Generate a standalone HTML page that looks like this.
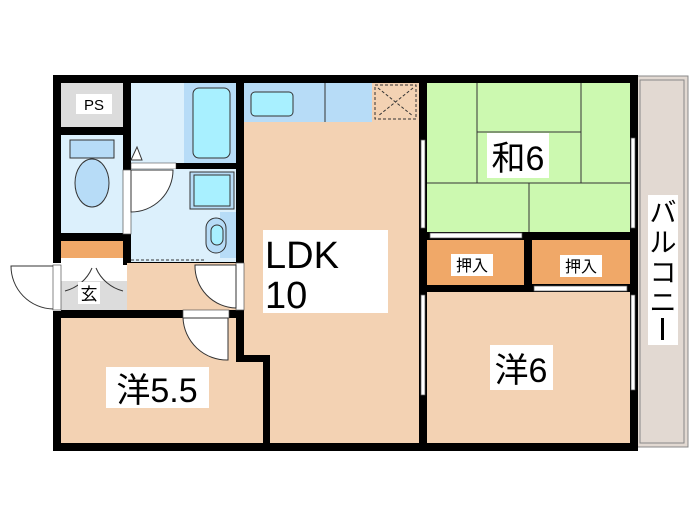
<!DOCTYPE html><html><head><meta charset="utf-8"><style>body{margin:0;background:#fff}svg{display:block}text{font-family:"Liberation Sans","Noto Sans CJK JP",sans-serif}</style></head><body>
<svg width="700" height="525" viewBox="0 0 700 525" xmlns="http://www.w3.org/2000/svg">
<rect width="700" height="525" fill="#fff"/>
<rect x="636" y="76" width="52" height="371" fill="#e2d9d2" stroke="#888" stroke-width="1"/>
<rect x="640" y="80" width="44" height="363" fill="none" stroke="#888" stroke-width="1"/>
<rect x="53" y="75" width="585" height="376" fill="#000"/>
<rect x="61" y="83" width="62" height="44" fill="#dcdcdc"/>
<rect x="61" y="135" width="62" height="98" fill="#dcf0fc"/>
<rect x="61" y="241" width="62" height="17" fill="#f0a868"/>
<rect x="61" y="258" width="62" height="7" fill="#fff"/>
<rect x="61" y="265" width="66" height="45" fill="#dcdcdc"/>
<rect x="61" y="265" width="66" height="16" fill="#fff"/>
<rect x="131" y="83" width="53" height="80" fill="#dcf0fc"/>
<rect x="184" y="83" width="52" height="80" fill="#b7dcf7"/>
<rect x="193" y="88" width="37" height="70" rx="6" fill="#a8f0ff" stroke="#333"/>
<rect x="131" y="163" width="45" height="6" fill="#fff" stroke="#333" stroke-width="0.5"/>
<rect x="131" y="169" width="105" height="93" fill="#dcf0fc"/>
<rect x="190" y="172" width="44" height="37" fill="#b7dcf7" stroke="#333"/>
<rect x="194" y="175" width="36" height="31" fill="#a8f0ff" stroke="#333"/>
<rect x="220" y="212" width="16" height="46" fill="#b7dcf7"/>
<rect x="206" y="218" width="20" height="35" rx="10" fill="#b7dcf7" stroke="#333"/>
<rect x="211" y="225" width="12" height="20" rx="6" fill="#a8f0ff" stroke="#333"/>
<rect x="70" y="140" width="44" height="18" fill="#b7dcf7" stroke="#333"/>
<ellipse cx="92" cy="183" rx="17" ry="24" fill="#b7dcf7" stroke="#333"/>
<path d="M131 160 L137 147 L142 160 Z" fill="#fff" stroke="#333"/>
<rect x="127" y="263" width="109" height="47" fill="#f3d2b3"/>
<line x1="131" y1="260" x2="205" y2="260" stroke="#333" stroke-dasharray="3,2"/>
<rect x="244" y="83" width="175" height="360" fill="#f3d2b3"/>
<rect x="244" y="83" width="128" height="39" fill="#b7dcf7"/>
<line x1="325" y1="83" x2="325" y2="122" stroke="#333"/>
<rect x="251" y="92" width="42" height="24" rx="4" fill="#a8f0ff" stroke="#333"/>
<rect x="372" y="83" width="47" height="39" fill="#f3d2b3"/>
<rect x="375" y="85" width="41" height="34" fill="none" stroke="#333" stroke-dasharray="3,2"/>
<path d="M378 88 L413 116 M413 88 L378 116" stroke="#333" stroke-dasharray="3,2"/>
<rect x="61" y="318" width="175" height="125" fill="#f3d2b3"/>
<rect x="236" y="362" width="27" height="81" fill="#f3d2b3"/>
<rect x="244" y="355" width="26" height="88" fill="#f3d2b3"/>
<rect x="263" y="355" width="7" height="88" fill="#000"/>
<rect x="236" y="355" width="34" height="7" fill="#000"/>
<rect x="427" y="83" width="203" height="149" fill="#ccf9b0"/>
<path d="M477 83V183M581 83V183M477 132H581M427 183H630M529 183V232" stroke="#333" fill="none"/>
<rect x="427" y="240" width="97" height="45" fill="#f0a868"/>
<rect x="532" y="240" width="98" height="44" fill="#f0a868"/>
<rect x="427" y="292" width="203" height="151" fill="#f3d2b3"/>
<rect x="430" y="233" width="92" height="5" fill="#fff" stroke="#555" stroke-width="0.7"/>
<rect x="534" y="286" width="93" height="5" fill="#fff" stroke="#555" stroke-width="0.7"/>
<rect x="421" y="140" width="4" height="88" fill="#fff" stroke="#555" stroke-width="0.7"/>
<rect x="421" y="295" width="4" height="100" fill="#fff" stroke="#555" stroke-width="0.7"/>
<rect x="631" y="138" width="4" height="90" fill="#fff" stroke="#555" stroke-width="0.7"/>
<rect x="631" y="295" width="4" height="95" fill="#fff" stroke="#555" stroke-width="0.7"/>
<rect x="5" y="263" width="56" height="48" fill="#fff"/>
<rect x="53" y="265" width="8" height="45" fill="#fff" stroke="#555" stroke-width="0.7"/>
<path d="M53 266 H11 A43 43 0 0 0 53 309" fill="none" stroke="#333"/>
<rect x="236" y="263" width="8" height="47" fill="#fff" stroke="#555" stroke-width="0.7"/>
<path d="M236 265 H195 A42 42 0 0 0 236 308 Z" fill="#fff" stroke="#333"/>
<rect x="183" y="310" width="46" height="8" fill="#fff" stroke="#555" stroke-width="0.7"/>
<path d="M183 318 H228 V360 A44 44 0 0 1 183 318" fill="#fff" stroke="#333"/>
<rect x="123" y="170" width="8" height="64" fill="#fff" stroke="#555" stroke-width="0.7"/>
<path d="M131 170 H173 A42 42 0 0 1 131 212 Z" fill="#fff" stroke="#333"/>
<path d="M65 291 A40 40 0 0 0 92 268 M123 291 A40 40 0 0 1 96 268" fill="none" stroke="#333"/>
<rect x="76" y="94" width="36" height="20" fill="#fff"/>
<text x="94" y="110" font-size="15" text-anchor="middle">PS</text>
<rect x="78" y="282" width="22" height="22" fill="#fff"/>
<text x="89" y="300" font-size="17" text-anchor="middle">玄</text>
<rect x="263" y="230" width="125" height="83" fill="#fff"/>
<text x="265" y="268" font-size="38">LDK</text>
<text x="265" y="308" font-size="38">10</text>
<rect x="487" y="133" width="62" height="45" fill="#fff"/>
<text x="518" y="170" font-size="34" text-anchor="middle">和6</text>
<rect x="451" y="254" width="42" height="22" fill="#fff"/>
<text x="472" y="271" font-size="16" text-anchor="middle">押入</text>
<rect x="560" y="255" width="42" height="22" fill="#fff"/>
<text x="581" y="272" font-size="16" text-anchor="middle">押入</text>
<rect x="490" y="345" width="63" height="45" fill="#fff"/>
<text x="521" y="382" font-size="34" text-anchor="middle">洋6</text>
<rect x="106" y="367" width="103" height="41" fill="#fff"/>
<text x="157" y="402" font-size="34" text-anchor="middle">洋5.5</text>
<rect x="648" y="195" width="30" height="150" fill="#fff"/>
<text x="663" y="222" font-size="27" text-anchor="middle">バ</text>
<text x="663" y="252" font-size="27" text-anchor="middle">ル</text>
<text x="663" y="282" font-size="27" text-anchor="middle">コ</text>
<text x="663" y="312" font-size="27" text-anchor="middle">ニ</text>
<rect x="661" y="318" width="3" height="22" fill="#000"/>
</svg>
</body></html>
